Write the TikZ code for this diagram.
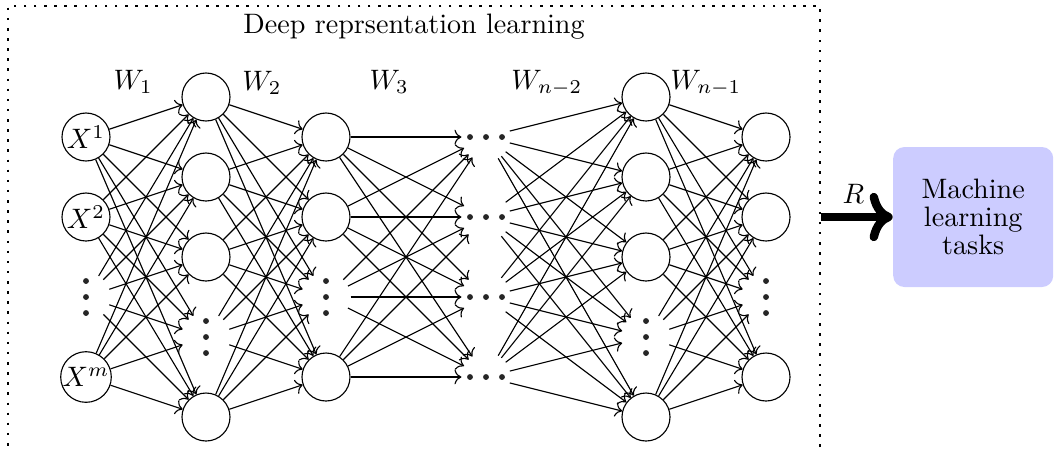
\documentclass[tikz,border=0pt]{standalone}
\usepackage{tikz}
\usetikzlibrary{arrows.meta, positioning, calc}

\begin{document}
\begin{tikzpicture}[
    neuron/.style={circle, draw, minimum size=0.6cm, inner sep=0pt},
    hidden/.style={circle, draw=none, minimum size=0.6cm, inner sep=0pt},
    conn/.style={->, thin},
    frame/.style={draw, line width=0.9pt, dash pattern=on 0.9pt off 2.7pt,
                  minimum width=10.15cm, minimum height=5.74cm},
    task/.style={rounded corners, fill=blue!20, minimum width=2cm, minimum height=1.75cm,
                 align=center, font=\linespread{0.82}\selectfont},
    dot/.style={fill=black!85},
]
\clip (-1.075,1.7125) rectangle (12.1,-3.9375);

% input layer
\node[neuron] (a1) at (0,0) {$X^1$};
\node[neuron] (a2) at (0,-1) {$X^2$};
\node[hidden] (a3) at (0,-2) {};
\node[neuron] (a4) at (0,-3) {$X^m$};

% hidden layers
\foreach \i/\y in {1/0.5, 2/-0.5, 3/-1.5, 5/-3.5} {
    \node[neuron] (b\i) at (1.5,\y) {};
    \node[neuron] (e\i) at (7,\y) {};
}
\node[hidden] (b4) at (1.5,-2.5) {};
\node[hidden] (e4) at (7,-2.5) {};

\foreach \i/\y in {1/0, 2/-1, 4/-3} {
    \node[neuron] (c\i) at (3,\y) {};
    \node[neuron] (f\i) at (8.5,\y) {};
}
\node[hidden] (c3) at (3,-2) {};
\node[hidden] (f3) at (8.5,-2) {};

\foreach \i in {1,...,4}
    \node[hidden] (d\i) at (5,1-\i) {};

% dots
\foreach \n in {a3, b4, c3, e4, f3}
    \foreach \k in {-1,0,1}
        \fill[dot] ($(\n)+(0,\k*0.2)$) circle (1.05pt);
\foreach \n in {d1, d2, d3, d4}
    \foreach \k in {-1,0,1}
        \fill[dot] ($(\n)+(\k*0.2,0)$) circle (1.05pt);

% connections
\foreach \s in {1,...,4}
    \foreach \t in {1,...,5}
        \draw[conn] (a\s) -- (b\t);
\foreach \s in {1,...,5}
    \foreach \t in {1,...,4}
        \draw[conn] (b\s) -- (c\t);
\foreach \s in {1,...,4}
    \foreach \t in {1,...,4}
        \draw[conn] (c\s) -- (d\t);
\foreach \s in {1,...,4}
    \foreach \t in {1,...,5}
        \draw[conn] (d\s) -- (e\t);
\foreach \s in {1,...,5}
    \foreach \t in {1,...,4}
        \draw[conn] (e\s) -- (f\t);

% weights
\node[anchor=base] (w1) at (0.59,0.6) {$W_1$};
\node[anchor=base] (w2) at (2.2,0.58) {$W_2$};
\node[anchor=base] (w3) at (3.79,0.6) {$W_3$};
\node[anchor=base] (w4) at (5.76,0.6) {$W_{n-2}$};
\node[anchor=base] (w5) at (7.75,0.6) {$W_{n-1}$};

% frame and task
\node[frame] (box) at (4.1,-1.23) {};
\node[anchor=base] (title) at (4.1,1.3) {Deep reprsentation learning};
\node[task] (ml) at (11.09,-1) {Machine\\learning\\tasks};
\draw[line width=3pt, ->] (box.east |- ml) -- (ml.west) node[pos=0.45, above] (r) {$R$};
\end{tikzpicture}
\end{document}
